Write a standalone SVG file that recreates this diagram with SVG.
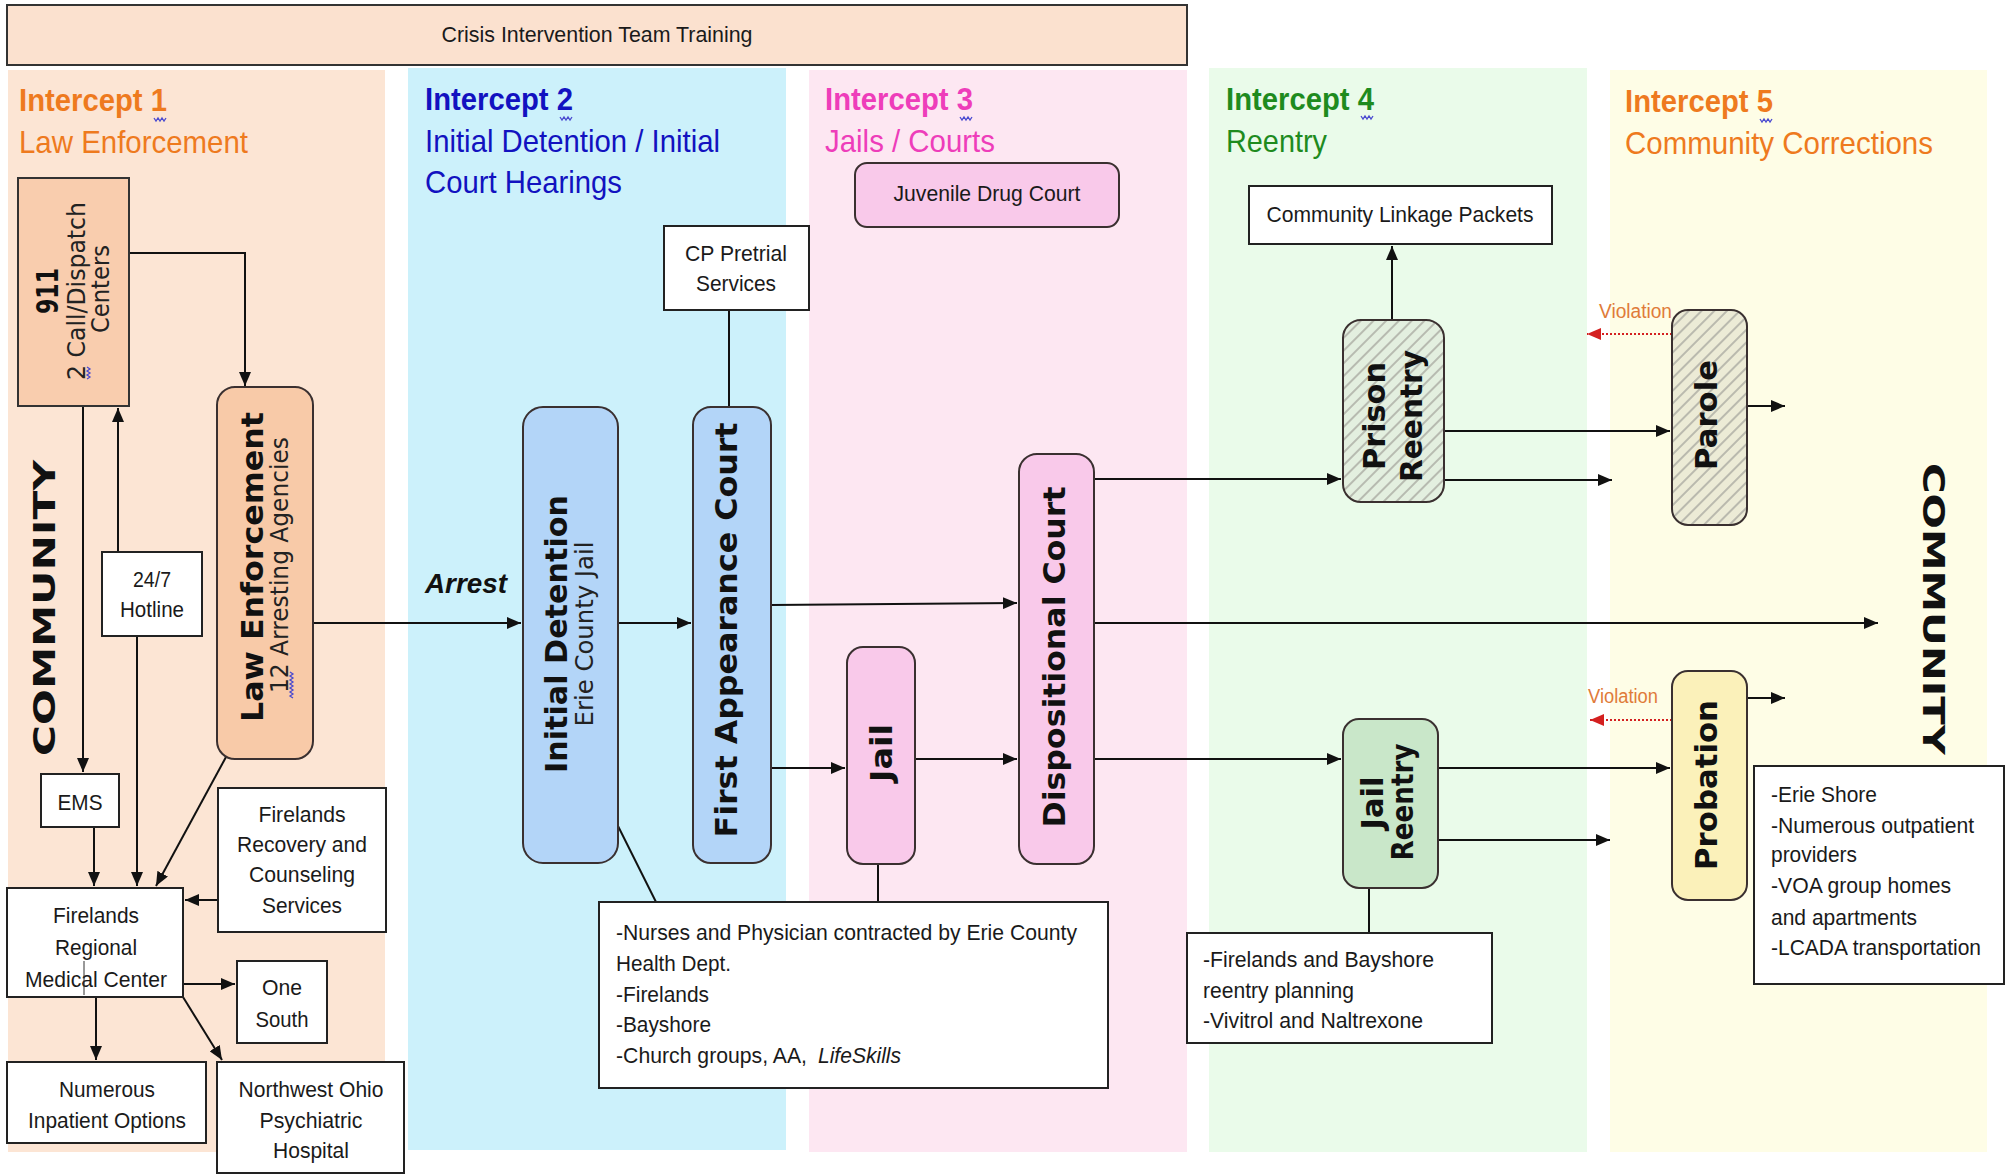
<svg xmlns="http://www.w3.org/2000/svg" width="2007" height="1174" viewBox="0 0 2007 1174">
<defs>
<style>
.t{font-family:"Liberation Sans",Arial,sans-serif;font-size:22px;fill:#1a1a1a}
.c{text-anchor:middle}
.title{font-family:"Liberation Sans",Arial,sans-serif;font-size:32px;font-weight:bold}
.sub{font-family:"Liberation Sans",Arial,sans-serif;font-size:32px}
.rb{font-family:"DejaVu Sans",Verdana,sans-serif;font-weight:bold;font-size:31px;text-anchor:middle;fill:#111}
.rr{font-family:"DejaVu Sans",Verdana,sans-serif;font-size:24px;text-anchor:middle;fill:#222}
.box{fill:#fff;stroke:#222;stroke-width:2}
.rnd{stroke:#3a3030;stroke-width:2}
.ln{fill:none;stroke:#111;stroke-width:2}
.arr{marker-end:url(#ah)}
.viol{fill:none;stroke:#d42020;stroke-width:2;stroke-dasharray:2 2;marker-end:url(#rh)}
.vt{font-family:"Liberation Sans",Arial,sans-serif;font-size:20px;fill:#e07b39}
.sq{fill:none;stroke:#4a4ad0;stroke-width:1.3}
</style>
<marker id="ah" markerUnits="userSpaceOnUse" markerWidth="14" markerHeight="12" refX="14" refY="6" orient="auto">
<path d="M0,0 L14,6 L0,12 z" fill="#111"/>
</marker>
<marker id="rh" markerUnits="userSpaceOnUse" markerWidth="14" markerHeight="12" refX="14" refY="6" orient="auto">
<path d="M0,0 L14,6 L0,12 z" fill="#d42020"/>
</marker>
<pattern id="hatch" width="9" height="9" patternUnits="userSpaceOnUse" patternTransform="rotate(45)">
<line x1="1" y1="0" x2="1" y2="9" stroke="#a4a49c" stroke-width="1.4"/>
</pattern>
</defs>

<rect width="2007" height="1174" fill="#fff"/>

<g id="lanes">
<rect x="8" y="70" width="377" height="1082" fill="#fce5d4"/>
<rect x="408" y="68" width="378" height="1082" fill="#ccf1fb"/>
<rect x="809" y="70" width="378" height="1082" fill="#fde7f2"/>
<rect x="1209" y="68" width="378" height="1084" fill="#eafbea"/>
<rect x="1610" y="70" width="377" height="1082" fill="#fefde6"/>
</g>

<g id="banner">
<rect x="7" y="5" width="1180" height="60" fill="#fbe1cf" stroke="#333" stroke-width="2"/>
<text class="t c" x="597" y="42" textLength="311" lengthAdjust="spacingAndGlyphs">Crisis Intervention Team Training</text>
</g>

<g id="lane-titles">
<text class="title" x="19" y="111" fill="#ee7a1e" textLength="148" lengthAdjust="spacingAndGlyphs">Intercept 1</text>
<text class="sub" x="19" y="153" fill="#ee7a1e" textLength="229" lengthAdjust="spacingAndGlyphs">Law Enforcement</text>
<path class="sq" d="M154,118 l2,3 l2,-3 l2,3 l2,-3 l2,3 l2,-3"/>
<text class="title" x="425" y="110" fill="#1212c0" textLength="148" lengthAdjust="spacingAndGlyphs">Intercept 2</text>
<text class="sub" x="425" y="152" fill="#1212c0" textLength="295" lengthAdjust="spacingAndGlyphs">Initial Detention / Initial</text>
<text class="sub" x="425" y="193" fill="#1212c0" textLength="197" lengthAdjust="spacingAndGlyphs">Court Hearings</text>
<path class="sq" d="M560,117 l2,3 l2,-3 l2,3 l2,-3 l2,3 l2,-3"/>
<text class="title" x="825" y="110" fill="#ee3dba" textLength="148" lengthAdjust="spacingAndGlyphs">Intercept 3</text>
<text class="sub" x="825" y="152" fill="#ee3dba" textLength="170" lengthAdjust="spacingAndGlyphs">Jails / Courts</text>
<path class="sq" d="M960,117 l2,3 l2,-3 l2,3 l2,-3 l2,3 l2,-3"/>
<text class="title" x="1226" y="110" fill="#1e8b1e" textLength="148" lengthAdjust="spacingAndGlyphs">Intercept 4</text>
<text class="sub" x="1226" y="152" fill="#1e8b1e" textLength="101" lengthAdjust="spacingAndGlyphs">Reentry</text>
<path class="sq" d="M1361,116 l2,3 l2,-3 l2,3 l2,-3 l2,3 l2,-3"/>
<text class="title" x="1625" y="112" fill="#ee7a1e" textLength="148" lengthAdjust="spacingAndGlyphs">Intercept 5</text>
<text class="sub" x="1625" y="154" fill="#ee7a1e" textLength="308" lengthAdjust="spacingAndGlyphs">Community Corrections</text>
<path class="sq" d="M1760,119 l2,3 l2,-3 l2,3 l2,-3 l2,3 l2,-3"/>
<text class="rb" font-size="38" textLength="296" lengthAdjust="spacingAndGlyphs" transform="translate(55,608) rotate(-90)">COMMUNITY</text>
<text class="rb" font-size="38" textLength="292" lengthAdjust="spacingAndGlyphs" transform="translate(1923,609) rotate(90)">COMMUNITY</text>
</g>

<g id="connectors">
<path class="ln arr" d="M129,253 H245 V386"/>
<path class="ln arr" d="M83,406 V772"/>
<path class="ln arr" d="M118,552 V408"/>
<path class="ln arr" d="M137,636 V886"/>
<path class="ln arr" d="M94,827 V886"/>
<path class="ln arr" d="M226,757 L156,886"/>
<path class="ln arr" d="M218,900 H185"/>
<path class="ln arr" d="M183,984 H235"/>
<path class="ln arr" d="M96,997 V1060"/>
<path class="ln arr" d="M183,997 L222,1060"/>
<path class="ln arr" d="M313,623 H521"/>
<path class="ln arr" d="M618,623 H691"/>
<path class="ln" d="M729,310 V407"/>
<path class="ln" d="M618,826 L656,902"/>
<path class="ln arr" d="M771,605 L1017,603"/>
<path class="ln arr" d="M771,768 H845"/>
<path class="ln arr" d="M915,759 H1017"/>
<path class="ln" d="M878,864 V902"/>
<path class="ln arr" d="M1094,479 H1341"/>
<path class="ln arr" d="M1094,623 H1878"/>
<path class="ln arr" d="M1094,759 H1341"/>
<path class="ln arr" d="M1392,320 V246"/>
<path class="ln arr" d="M1444,431 H1670"/>
<path class="ln arr" d="M1444,480 H1612"/>
<path class="ln arr" d="M1747,406 H1785"/>
<path class="viol" d="M1672,334 H1587"/>
<path class="ln arr" d="M1438,768 H1670"/>
<path class="ln arr" d="M1438,840 H1610"/>
<path class="ln arr" d="M1747,698 H1785"/>
<path class="viol" d="M1672,720 H1590"/>
<path class="ln" d="M1369,888 V933"/>
</g>

<g id="n911">
<rect x="18" y="178" width="111" height="228" fill="#f9cdae" stroke="#333" stroke-width="2"/>
<text class="rb" font-size="24" textLength="46" lengthAdjust="spacingAndGlyphs" transform="translate(58,291) rotate(-90)">911</text>
<text class="rr" textLength="178" lengthAdjust="spacingAndGlyphs" transform="translate(85,291) rotate(-90)">2 Call/Dispatch</text>
<text class="rr" textLength="88" lengthAdjust="spacingAndGlyphs" transform="translate(109,289) rotate(-90)">Centers</text>
<path class="sq" d="M87,367 l3,2 l-3,2 l3,2 l-3,2 l3,2 l-3,2"/>
</g>

<g id="law-enforcement">
<rect class="rnd" x="217" y="387" width="96" height="372" rx="18" fill="#f8caa8"/>
<text class="rb" textLength="310" lengthAdjust="spacingAndGlyphs" transform="translate(263,567) rotate(-90)">Law Enforcement</text>
<text class="rr" font-size="23" textLength="256" lengthAdjust="spacingAndGlyphs" transform="translate(288,565) rotate(-90)">12 Arresting Agencies</text>
<path class="sq" d="M290,672 l3,2 l-3,2 l3,2 l-3,2 l3,2 l-3,2 l3,2 l-3,2 l3,2 l-3,2 l3,2 l-3,2 l3,2"/>
</g>

<g id="hotline">
<rect class="box" x="102" y="552" width="100" height="84"/>
<text class="t c" x="152" y="587" textLength="38" lengthAdjust="spacingAndGlyphs">24/7</text>
<text class="t c" x="152" y="617" textLength="64" lengthAdjust="spacingAndGlyphs">Hotline</text>
</g>

<g id="ems">
<rect class="box" x="41" y="774" width="78" height="53"/>
<text class="t c" x="80" y="810" textLength="45" lengthAdjust="spacingAndGlyphs">EMS</text>
</g>

<g id="frmc">
<rect class="box" x="7" y="888" width="176" height="109"/>
<text class="t c" x="96" y="923" textLength="86" lengthAdjust="spacingAndGlyphs">Firelands</text>
<text class="t c" x="96" y="955" textLength="82" lengthAdjust="spacingAndGlyphs">Regional</text>
<text class="t c" x="96" y="987" textLength="142" lengthAdjust="spacingAndGlyphs">Medical Center</text>
<line x1="84" y1="961" x2="84" y2="995" stroke="#333" stroke-width="1"/>
</g>

<g id="firelands-recovery">
<rect class="box" x="218" y="788" width="168" height="144"/>
<text class="t c" x="302" y="822" textLength="87" lengthAdjust="spacingAndGlyphs">Firelands</text>
<text class="t c" x="302" y="852" textLength="130" lengthAdjust="spacingAndGlyphs">Recovery and</text>
<text class="t c" x="302" y="882" textLength="106" lengthAdjust="spacingAndGlyphs">Counseling</text>
<text class="t c" x="302" y="913" textLength="80" lengthAdjust="spacingAndGlyphs">Services</text>
</g>

<g id="one-south">
<rect class="box" x="237" y="961" width="90" height="82"/>
<text class="t c" x="282" y="995" textLength="40" lengthAdjust="spacingAndGlyphs">One</text>
<text class="t c" x="282" y="1027" textLength="53" lengthAdjust="spacingAndGlyphs">South</text>
</g>

<g id="numerous-inpatient">
<rect class="box" x="7" y="1062" width="199" height="81"/>
<text class="t c" x="107" y="1097" textLength="96" lengthAdjust="spacingAndGlyphs">Numerous</text>
<text class="t c" x="107" y="1128" textLength="158" lengthAdjust="spacingAndGlyphs">Inpatient Options</text>
</g>

<g id="northwest-ohio">
<rect class="box" x="217" y="1062" width="187" height="111"/>
<text class="t c" x="311" y="1097" textLength="145" lengthAdjust="spacingAndGlyphs">Northwest Ohio</text>
<text class="t c" x="311" y="1128" textLength="103" lengthAdjust="spacingAndGlyphs">Psychiatric</text>
<text class="t c" x="311" y="1158" textLength="76" lengthAdjust="spacingAndGlyphs">Hospital</text>
</g>

<g id="arrest-label">
<text x="425" y="593" font-family="Liberation Sans, Arial, sans-serif" font-size="28" font-weight="bold" font-style="italic" fill="#111" textLength="82" lengthAdjust="spacingAndGlyphs">Arrest</text>
</g>

<g id="initial-detention">
<rect class="rnd" x="523" y="407" width="95" height="456" rx="20" fill="#b3d5f8"/>
<text class="rb" textLength="278" lengthAdjust="spacingAndGlyphs" transform="translate(567,634) rotate(-90)">Initial Detention</text>
<text class="rr" textLength="185" lengthAdjust="spacingAndGlyphs" transform="translate(593,634) rotate(-90)">Erie County Jail</text>
</g>

<g id="cp-pretrial">
<rect class="box" x="664" y="226" width="145" height="84"/>
<text class="t c" x="736" y="261" textLength="102" lengthAdjust="spacingAndGlyphs">CP Pretrial</text>
<text class="t c" x="736" y="291" textLength="80" lengthAdjust="spacingAndGlyphs">Services</text>
</g>

<g id="first-appearance">
<rect class="rnd" x="693" y="407" width="78" height="456" rx="18" fill="#b3d5f8"/>
<text class="rb" font-size="32" textLength="415" lengthAdjust="spacingAndGlyphs" transform="translate(737,630) rotate(-90)">First Appearance Court</text>
</g>

<g id="nurses-box">
<rect class="box" x="599" y="902" width="509" height="186"/>
<text class="t" x="616" y="940" textLength="461" lengthAdjust="spacingAndGlyphs">-Nurses and Physician contracted by Erie County</text>
<text class="t" x="616" y="971" textLength="115" lengthAdjust="spacingAndGlyphs">Health Dept.</text>
<text class="t" x="616" y="1002" textLength="93" lengthAdjust="spacingAndGlyphs">-Firelands</text>
<text class="t" x="616" y="1032" textLength="95" lengthAdjust="spacingAndGlyphs">-Bayshore</text>
<text class="t" x="616" y="1063" textLength="191" lengthAdjust="spacingAndGlyphs">-Church groups, AA,</text>
<text class="t" x="818" y="1063" font-style="italic" textLength="83" lengthAdjust="spacingAndGlyphs">LifeSkills</text>
</g>

<g id="juvenile-drug-court">
<rect class="rnd" x="855" y="163" width="264" height="64" rx="12" fill="#f9c9ea"/>
<text class="t c" x="987" y="201" textLength="187" lengthAdjust="spacingAndGlyphs">Juvenile Drug Court</text>
</g>

<g id="jail">
<rect class="rnd" x="847" y="647" width="68" height="217" rx="16" fill="#f9c9ea"/>
<text class="rb" textLength="58" lengthAdjust="spacingAndGlyphs" transform="translate(892,753) rotate(-90)">Jail</text>
</g>

<g id="dispositional-court">
<rect class="rnd" x="1019" y="454" width="75" height="410" rx="18" fill="#f9c9ea"/>
<text class="rb" textLength="341" lengthAdjust="spacingAndGlyphs" transform="translate(1065,657) rotate(-90)">Dispositional Court</text>
</g>

<g id="community-linkage">
<rect class="box" x="1249" y="186" width="303" height="58"/>
<text class="t c" x="1400" y="222" textLength="267" lengthAdjust="spacingAndGlyphs">Community Linkage Packets</text>
</g>

<g id="prison-reentry">
<rect x="1343" y="320" width="101" height="182" rx="18" fill="#e3efdf"/>
<rect x="1343" y="320" width="101" height="182" rx="18" fill="url(#hatch)"/>
<rect class="rnd" x="1343" y="320" width="101" height="182" rx="18" fill="none"/>
<text class="rb" font-size="30" textLength="108" lengthAdjust="spacingAndGlyphs" transform="translate(1385,416) rotate(-90)">Prison</text>
<text class="rb" font-size="30" textLength="132" lengthAdjust="spacingAndGlyphs" transform="translate(1422,416) rotate(-90)">Reentry</text>
</g>

<g id="jail-reentry">
<rect class="rnd" x="1343" y="719" width="95" height="169" rx="16" fill="#c9e7c9"/>
<text class="rb" font-size="27" textLength="53" lengthAdjust="spacingAndGlyphs" transform="translate(1383,803) rotate(-90)">Jail</text>
<text class="rb" font-size="27" textLength="117" lengthAdjust="spacingAndGlyphs" transform="translate(1413,802) rotate(-90)">Reentry</text>
</g>

<g id="reentry-services">
<rect class="box" x="1187" y="933" width="305" height="110"/>
<text class="t" x="1203" y="967" textLength="231" lengthAdjust="spacingAndGlyphs">-Firelands and Bayshore</text>
<text class="t" x="1203" y="998" textLength="151" lengthAdjust="spacingAndGlyphs">reentry planning</text>
<text class="t" x="1203" y="1028" textLength="220" lengthAdjust="spacingAndGlyphs">-Vivitrol and Naltrexone</text>
</g>

<g id="parole">
<rect x="1672" y="310" width="75" height="215" rx="16" fill="#ecebd6"/>
<rect x="1672" y="310" width="75" height="215" rx="16" fill="url(#hatch)"/>
<rect class="rnd" x="1672" y="310" width="75" height="215" rx="16" fill="none"/>
<text class="rb" textLength="110" lengthAdjust="spacingAndGlyphs" transform="translate(1717,415) rotate(-90)">Parole</text>
<text class="vt" x="1599" y="318" textLength="73" lengthAdjust="spacingAndGlyphs">Violation</text>
</g>

<g id="probation">
<rect class="rnd" x="1672" y="671" width="75" height="229" rx="16" fill="#fbf1ba"/>
<text class="rb" textLength="170" lengthAdjust="spacingAndGlyphs" transform="translate(1717,785) rotate(-90)">Probation</text>
<text class="vt" x="1588" y="703" textLength="70" lengthAdjust="spacingAndGlyphs">Violation</text>
</g>

<g id="community-services">
<rect class="box" x="1754" y="766" width="250" height="218"/>
<text class="t" x="1771" y="802" textLength="106" lengthAdjust="spacingAndGlyphs">-Erie Shore</text>
<text class="t" x="1771" y="833" textLength="203" lengthAdjust="spacingAndGlyphs">-Numerous outpatient</text>
<text class="t" x="1771" y="862" textLength="86" lengthAdjust="spacingAndGlyphs">providers</text>
<text class="t" x="1771" y="893" textLength="180" lengthAdjust="spacingAndGlyphs">-VOA group homes</text>
<text class="t" x="1771" y="925" textLength="146" lengthAdjust="spacingAndGlyphs">and apartments</text>
<text class="t" x="1771" y="955" textLength="210" lengthAdjust="spacingAndGlyphs">-LCADA transportation</text>
</g>
</svg>
